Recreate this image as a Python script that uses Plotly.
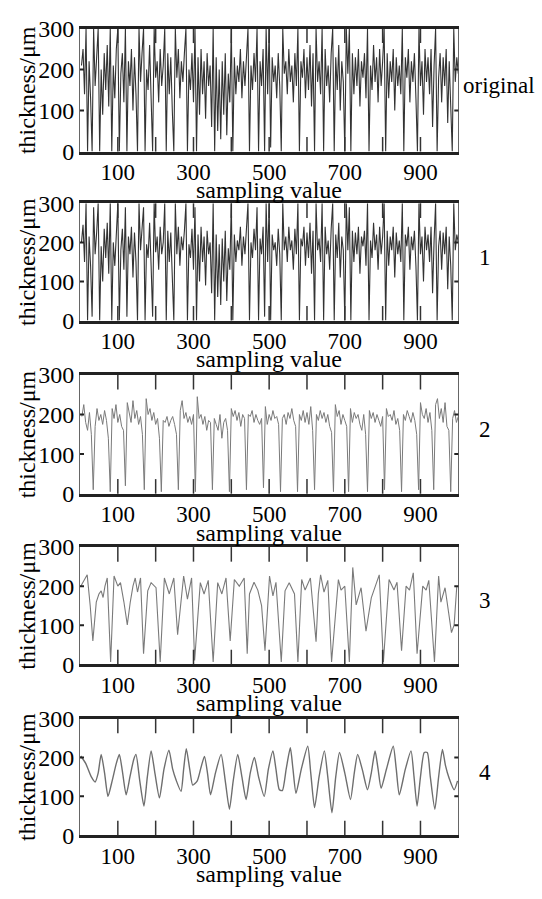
import plotly.graph_objects as go

# ---------------- data ----------------
noisy_x = list(range(4, 1001, 4))

orig = [
    210, 250, 140, 300, 0, 220, 130, 0, 300, 160,
    230, 300, 0, 200, 90, 240, 150, 260, 110, 300,
    0, 210, 130, 250, 300, 0, 190, 240, 120, 300,
    0, 220, 160, 250, 100, 230, 140, 0, 300, 170,
    240, 300, 0, 200, 150, 260, 130, 0, 300, 180,
    220, 120, 250, 160, 210, 300, 0, 240, 140, 230,
    100, 0, 300, 180, 250, 130, 220, 170, 240, 300,
    0, 200, 150, 240, 120, 300, 0, 230, 90, 250,
    140, 220, 80, 240, 160, 210, 60, 300, 0, 230,
    50, 200, 30, 220, 90, 240, 40, 190, 120, 300,
    0, 230, 140, 210, 170, 250, 130, 220, 160, 240,
    300, 0, 210, 150, 240, 170, 300, 0, 220, 160,
    250, 0, 300, 140, 300, 10, 230, 170, 210, 130,
    240, 160, 0, 300, 190, 220, 140, 250, 170, 210,
    120, 240, 160, 300, 0, 220, 180, 250, 130, 230,
    150, 260, 110, 240, 0, 300, 170, 220, 140, 300,
    0, 250, 160, 210, 120, 240, 300, 0, 230, 150,
    260, 100, 220, 170, 0, 300, 190, 300, 0, 240,
    140, 230, 160, 250, 110, 220, 180, 240, 130, 300,
    0, 210, 150, 260, 170, 230, 120, 250, 160, 220,
    300, 0, 240, 130, 220, 170, 250, 100, 230, 160,
    210, 140, 300, 0, 230, 180, 250, 120, 220, 170,
    240, 130, 0, 300, 160, 220, 90, 250, 170, 230,
    140, 250, 60, 210, 300, 0, 180, 240, 120, 230,
    160, 250, 70, 220, 130, 0, 300, 170, 230, 190,
]

one = [
    200, 245, 150, 300, 0, 215, 140, 10, 290, 170,
    225, 300, 0, 190, 100, 235, 160, 250, 120, 300,
    0, 200, 140, 240, 300, 0, 180, 235, 130, 290,
    10, 215, 170, 240, 110, 225, 150, 0, 300, 180,
    235, 290, 0, 195, 160, 250, 140, 10, 300, 175,
    215, 130, 240, 170, 200, 300, 0, 230, 150, 225,
    110, 0, 300, 170, 240, 140, 215, 180, 230, 300,
    0, 195, 160, 235, 130, 290, 0, 220, 100, 240,
    150, 215, 90, 230, 170, 200, 70, 300, 0, 220,
    60, 195, 40, 210, 100, 230, 50, 185, 130, 300,
    0, 220, 150, 205, 180, 240, 140, 215, 170, 235,
    300, 0, 200, 160, 235, 180, 290, 0, 210, 170,
    240, 10, 300, 150, 300, 0, 220, 180, 200, 140,
    235, 170, 0, 300, 180, 215, 150, 240, 180, 205,
    130, 235, 170, 300, 0, 210, 190, 240, 140, 225,
    160, 250, 120, 230, 0, 300, 180, 210, 150, 300,
    0, 240, 170, 205, 130, 235, 300, 0, 220, 160,
    250, 110, 215, 180, 0, 300, 180, 290, 0, 230,
    150, 225, 170, 240, 120, 215, 190, 230, 140, 300,
    0, 205, 160, 250, 180, 220, 130, 240, 170, 215,
    300, 0, 230, 140, 215, 180, 240, 110, 225, 170,
    205, 150, 300, 0, 220, 190, 240, 130, 215, 180,
    230, 140, 0, 300, 170, 215, 100, 240, 180, 220,
    150, 240, 70, 205, 300, 0, 190, 230, 130, 225,
    170, 240, 80, 215, 140, 0, 300, 180, 220, 200,
]

two_x = list(range(5, 1001, 5))
two = [
    195, 225, 180, 160, 205, 150, 10, 170, 215, 185,
    200, 175, 210, 185, 140, 5, 215, 190, 225, 180,
    200, 170, 160, 20, 230, 205, 180, 235, 190, 210,
    175, 195, 150, 10, 240, 200, 215, 185, 205, 175,
    190, 140, 5, 185, 180, 195, 170, 185, 195, 175,
    150, 10, 210, 235, 190, 205, 180, 195, 175, 200,
    5, 245, 190, 200, 175, 195, 160, 185, 180, 10,
    190, 175, 160, 200, 140, 180, 190, 160, 5, 215,
    195, 210, 185, 205, 170, 200, 190, 10, 200, 195,
    210, 180, 200, 185, 175, 190, 15, 220, 175, 200,
    185, 210, 190, 195, 175, 5, 190, 200, 175, 205,
    190, 215, 185, 170, 5, 200, 185, 210, 180, 205,
    175, 220, 160, 10, 200, 185, 210, 190, 205, 180,
    200, 170, 155, 5, 225, 195, 210, 175, 200, 185,
    170, 5, 215, 180, 205, 190, 200, 175, 160, 200,
    150, 5, 210, 190, 205, 180, 200, 185, 170, 195,
    10, 215, 195, 200, 185, 210, 175, 190, 160, 5,
    200, 185, 210, 195, 180, 205, 185, 150, 10, 230,
    200, 190, 215, 180, 205, 160, 10, 225, 240, 190,
    215, 180, 230, 170, 160, 5, 190, 210, 180, 195,
]

three_x = [2, 19, 27, 34, 43, 50, 56, 61, 66, 72, 81, 90, 100, 107, 116, 125, 133, 140, 146, 152,
           160, 168, 179, 188, 201, 212, 223, 236, 248, 258, 274, 284, 295, 303, 318, 328, 339, 352, 364, 375,
           386, 397, 408, 421, 434, 442, 448, 460, 470, 480, 489, 501, 510, 518, 532, 542, 553, 567, 576, 586,
           595, 609, 624, 630, 636, 645, 655, 665, 683, 690, 700, 712, 721, 730, 743, 756, 770, 780, 791, 802,
           817, 830, 838, 850, 862, 871, 881, 891, 906, 915, 922, 937, 948, 954, 965, 982, 989, 996]
three_y = [200, 229, 150, 60, 159, 180, 188, 171, 200, 221, 6, 226, 200, 209, 160, 101, 160, 200, 221, 185,
           221, 27, 188, 209, 196, 6, 221, 180, 221, 76, 226, 167, 221, 10, 209, 180, 215, 6, 209, 180,
           221, 60, 217, 200, 221, 27, 180, 210, 190, 150, 35, 226, 175, 210, 6, 188, 209, 180, 6, 217,
           190, 221, 58, 180, 229, 185, 215, 6, 217, 190, 200, 6, 248, 152, 196, 85, 170, 200, 229, 6,
           217, 190, 210, 35, 200, 190, 234, 27, 200, 190, 215, 6, 226, 159, 196, 81, 101, 200]

four_x = [2, 15, 30, 40, 48, 56, 65, 74, 85, 96, 104, 112, 122, 132, 142, 148, 158, 169, 178, 188,
          198, 210, 222, 235, 245, 254, 267, 274, 281, 290, 298, 310, 320, 329, 337, 345, 358, 373, 384, 395,
          405, 417, 428, 439, 450, 461, 472, 487, 498, 510, 518, 527, 535, 545, 556, 563, 571, 585, 602, 610,
          620, 632, 646, 655, 666, 676, 686, 700, 715, 725, 734, 746, 760, 770, 780, 788, 796, 810, 828, 836,
          844, 860, 875, 883, 891, 900, 910, 918, 926, 938, 948, 958, 966, 976, 989, 998]
four_y = [204, 185, 150, 137, 160, 208, 160, 100, 140, 185, 208, 165, 104, 150, 195, 208, 140, 75, 150, 217,
          160, 96, 170, 219, 170, 142, 113, 170, 223, 170, 129, 140, 175, 203, 160, 104, 160, 208, 140, 67,
          140, 208, 150, 92, 160, 200, 150, 100, 170, 217, 170, 117, 115, 170, 225, 170, 108, 170, 229, 160,
          71, 150, 217, 150, 58, 150, 213, 160, 92, 160, 208, 170, 117, 160, 217, 170, 121, 170, 229, 170,
          104, 170, 217, 150, 75, 150, 213, 213, 150, 67, 150, 221, 180, 146, 117, 140]

x_tickvals = [100, 200, 300, 400, 500, 600, 700, 800, 900]
x_ticktext = ["100", "", "300", "", "500", "", "700", "", "900"]
y_tickvals = [0, 100, 200, 300]
y_ticktext = ["0", "100", "200", "300"]
y_minor_ticks = [100, 200]
panel_labels = ["original", "1", "2", "3", "4"]

# ---------------- figure ----------------
W, H = 542, 899
tops = [16, 196, 372.7, 550, 726.7]
bots = [142.7, 316.7, 495, 670.7, 846.7]
left, right = 80, 458.3
FONT = "Liberation Serif, Times New Roman, serif"
FS = 24


def px(x):
    return x / W


def py(y):
    return 1 - y / H


series = [
    (noisy_x, orig, "#333333", 1.1, "linear"),
    (noisy_x, one, "#333333", 1.1, "linear"),
    (two_x, two, "#7a7a7a", 1.0, "linear"),
    (three_x, three_y, "#7a7a7a", 1.1, "linear"),
    (four_x, four_y, "#6e6e6e", 1.4, "spline"),
]

fig = go.Figure()
layout = {}
annotations = []
shapes = []
for i, (xs, ys, col, lw, shape) in enumerate(series):
    n = i + 1
    xa_name = "xaxis" if n == 1 else f"xaxis{n}"
    ya_name = "yaxis" if n == 1 else f"yaxis{n}"
    xref = "x" if n == 1 else f"x{n}"
    yref = "y" if n == 1 else f"y{n}"
    line = dict(color=col, width=lw, shape=shape)
    if shape == "spline":
        line["smoothing"] = 0.6
    fig.add_trace(go.Scatter(x=xs, y=ys, mode="lines", line=line,
                             xaxis=xref, yaxis=yref, hoverinfo="skip"))
    ph = bots[i] - tops[i]
    pw = right - left
    layout[xa_name] = dict(
        domain=[px(left), px(right)], anchor=yref, range=[0, 1000],
        tickvals=x_tickvals, ticktext=x_ticktext, ticks="",
        ticklabelstandoff=-2,
        mirror=True, showline=True,
        linewidth=3, linecolor="#222", showgrid=False, zeroline=False,
        tickfont=dict(family=FONT, size=23, color="black"), fixedrange=True,
    )
    layout[ya_name] = dict(
        domain=[py(bots[i]), py(tops[i])], anchor=xref, range=[0, 300],
        tickvals=y_tickvals, ticktext=y_ticktext, ticks="",
        mirror=True, showline=True,
        linewidth=1, linecolor="#666", showgrid=False, zeroline=False,
        tickfont=dict(family=FONT, size=FS, color="black"), fixedrange=True,
    )
    layer = "below" if n <= 2 else "above"
    tl = 15 / ph
    for tv in x_tickvals:
        for (a, b) in ((0, tl), (1 - tl, 1)):
            shapes.append(dict(type="line", xref=xref, yref=f"{yref} domain",
                               x0=tv, x1=tv, y0=a, y1=b, layer=layer,
                               line=dict(color="#333", width=1.5)))
    yl = 4 / pw
    for tv in y_minor_ticks:
        for (a, b) in ((0, yl), (1 - yl, 1)):
            shapes.append(dict(type="line", xref=f"{xref} domain", yref=yref,
                               x0=a, x1=b, y0=tv, y1=tv, layer="above",
                               line=dict(color="#222", width=2)))
    cy = (tops[i] + bots[i]) / 2
    annotations.append(dict(
        text="sampling value", xref="paper", yref="paper",
        x=px((left + right) / 2), y=py(bots[i] + 40),
        xanchor="center", yanchor="middle", showarrow=False,
        font=dict(family=FONT, size=FS, color="black")))
    annotations.append(dict(
        text="thickness/μm", xref="paper", yref="paper",
        x=px(27), y=py(cy), textangle=-90,
        xanchor="center", yanchor="middle", showarrow=False,
        font=dict(family=FONT, size=FS, color="black")))
    lx = 461 if n == 1 else 477
    annotations.append(dict(
        text=panel_labels[i], xref="paper", yref="paper",
        x=px(lx), y=py(cy - 5),
        xanchor="left", yanchor="middle", showarrow=False,
        font=dict(family=FONT, size=23, color="black")))

fig.update_layout(
    width=W, height=H, margin=dict(l=0, r=0, t=0, b=0),
    plot_bgcolor="white", paper_bgcolor="white", showlegend=False,
    annotations=annotations, shapes=shapes, **layout,
)
fig.write_html(
    "out.html",
    config={"displayModeBar": False},
    post_script="document.body.style.margin='0';"
                "document.documentElement.style.overflow='hidden';",
)
